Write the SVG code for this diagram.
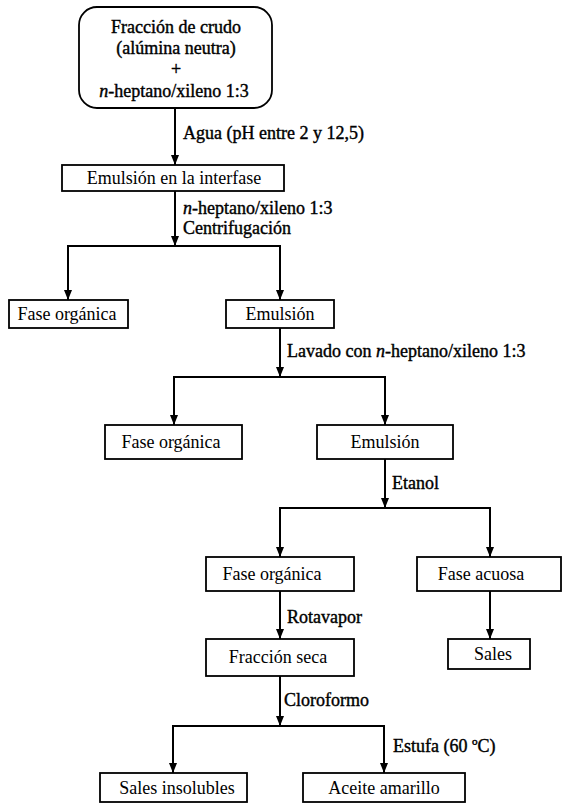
<svg xmlns="http://www.w3.org/2000/svg" width="562" height="804" viewBox="0 0 562 804">
<style>
text{font-family:'Liberation Serif','Times New Roman',serif;font-size:18px;fill:#000}
.c{text-anchor:middle}
.h{stroke:#000;stroke-width:0.4}
.b{fill:#fff;stroke:#000;stroke-width:1.8}
.e{fill:none;stroke:#000;stroke-width:2}
.i{font-style:italic}
</style>
<defs>
<marker id="ar" viewBox="0 0 10 8" markerWidth="10" markerHeight="8" refX="10" refY="4" orient="auto" markerUnits="userSpaceOnUse">
<path d="M0,0 L10,4 L0,8 z" fill="#000"/>
</marker>
</defs>
<rect width="562" height="804" fill="#fff"/>
<g id="connectors">
<path class="e" d="M175,108 V165" marker-end="url(#ar)"/>
<path class="e" d="M175,191 V246" marker-end="url(#ar)"/>
<path class="e" d="M175,246 H68 V300" marker-end="url(#ar)"/>
<path class="e" d="M175,246 H280 V300" marker-end="url(#ar)"/>
<path class="e" d="M280,328 V377" marker-end="url(#ar)"/>
<path class="e" d="M280,377 H174 V425" marker-end="url(#ar)"/>
<path class="e" d="M280,377 H385 V425" marker-end="url(#ar)"/>
<path class="e" d="M385,459 V508" marker-end="url(#ar)"/>
<path class="e" d="M385,508 H280 V557" marker-end="url(#ar)"/>
<path class="e" d="M385,508 H490 V557" marker-end="url(#ar)"/>
<path class="e" d="M280,591 V639" marker-end="url(#ar)"/>
<path class="e" d="M490,591 V639" marker-end="url(#ar)"/>
<path class="e" d="M280,676 V726" marker-end="url(#ar)"/>
<path class="e" d="M280,726 H173 V773" marker-end="url(#ar)"/>
<path class="e" d="M280,726 H384 V773" marker-end="url(#ar)"/>
<text class="h" x="183" y="139">Agua (pH entre 2 y 12,5)</text>
<text class="h" x="183" y="214"><tspan class="i">n</tspan>-heptano/xileno 1:3</text>
<text class="h" x="183" y="234">Centrifugación</text>
<text class="h" x="287" y="357">Lavado con <tspan class="i">n</tspan>-heptano/xileno 1:3</text>
<text class="h" x="392" y="489">Etanol</text>
<text class="h" x="287" y="623">Rotavapor</text>
<text class="h" x="284" y="706">Cloroformo</text>
<text class="h" x="393" y="752">Estufa (60 ºC)</text>
</g>
<g id="n1">
<rect class="b" x="79" y="7" width="193" height="101" rx="18"/>
<text class="c h" x="176" y="33">Fracción de crudo</text>
<text class="c h" x="176" y="54">(alúmina neutra)</text>
<text class="c h" x="176" y="75">+</text>
<text class="c h" x="174" y="97"><tspan class="i">n</tspan>-heptano/xileno 1:3</text>
</g>
<g id="n2">
<rect class="b" x="62" y="165" width="222" height="26"/>
<text class="c" x="174" y="184">Emulsión en la interfase</text>
</g>
<g id="n3">
<rect class="b" x="9" y="300" width="119" height="28"/>
<text class="c" x="67" y="320">Fase orgánica</text>
</g>
<g id="n4">
<rect class="b" x="226" y="300" width="108" height="28"/>
<text class="c" x="280" y="320">Emulsión</text>
</g>
<g id="n5">
<rect class="b" x="105" y="425" width="137" height="34"/>
<text class="c" x="171" y="448">Fase orgánica</text>
</g>
<g id="n6">
<rect class="b" x="317" y="425" width="136" height="34"/>
<text class="c" x="385" y="448">Emulsión</text>
</g>
<g id="n7">
<rect class="b" x="206" y="557" width="148" height="34"/>
<text class="c" x="272" y="580">Fase orgánica</text>
</g>
<g id="n8">
<rect class="b" x="417" y="557" width="144" height="34"/>
<text class="c" x="481" y="580">Fase acuosa</text>
</g>
<g id="n9">
<rect class="b" x="206" y="639" width="148" height="37"/>
<text class="c" x="278" y="663">Fracción seca</text>
</g>
<g id="n10">
<rect class="b" x="448" y="639" width="82" height="30"/>
<text class="c" x="493" y="660">Sales</text>
</g>
<g id="n11">
<rect class="b" x="100" y="773" width="147" height="29"/>
<text class="c" x="177" y="794">Sales insolubles</text>
</g>
<g id="n12">
<rect class="b" x="303" y="773" width="162" height="29"/>
<text class="c" x="384" y="794">Aceite amarillo</text>
</g>
</svg>
